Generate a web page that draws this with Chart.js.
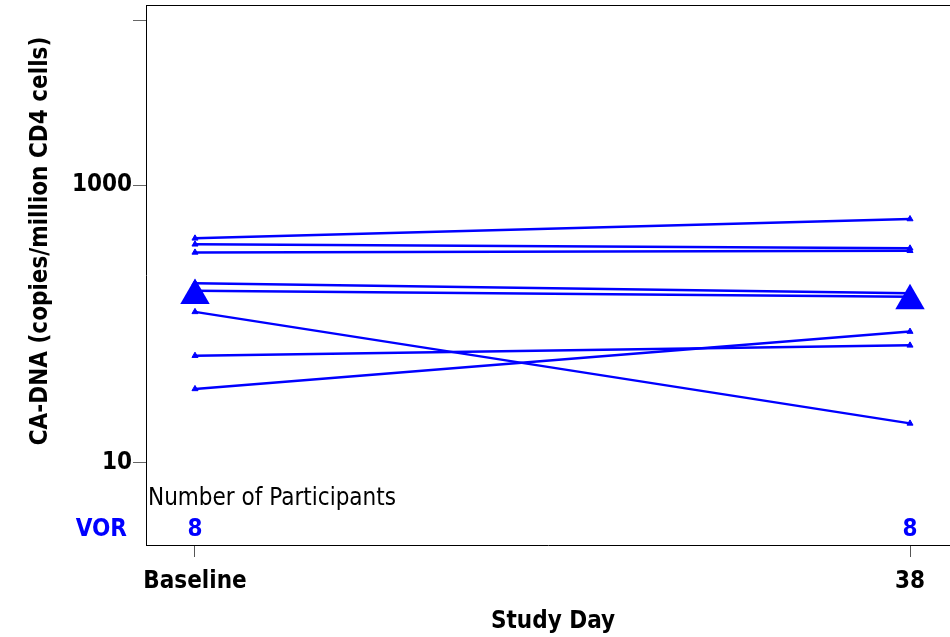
<!DOCTYPE html>
<html>
<head>
<meta charset="utf-8">
<script src="https://cdn.jsdelivr.net/npm/chart.js@4/dist/chart.umd.min.js"></script>
<style>
  body { margin: 0; background: #fff; }
  canvas { display: block; }
</style>
</head>
<body>
<canvas id="myChart" width="950" height="637"></canvas>
<script>
// study visits
const visitLabels = ["Baseline", "38"];
const visitIndex = [0, 1];

// CA-DNA per participant, baseline then day 38
const baselineValues = [413, 374, 327, 196, 173, 122, 59, 34];
const day38Values = [569, 350, 336, 166, 157, 19.2, 70, 88];

// mean marker (big triangle)
const meanValues = [160, 147];

// participants under the plot
const groupName = "VOR";
const participantCounts = [8, 8];

const yTickValues = [10, 1000, 15400];
const yTickLabels = ["10", "1000", ""];

const blue = "#0000ff";
const fontFamily = "'DejaVu Sans Condensed', 'DejaVu Sans', sans-serif";

const datasets = baselineValues.map((b, i) => ({
  data: [
    { x: visitIndex[0], y: b },
    { x: visitIndex[1], y: day38Values[i] },
  ],
  borderColor: blue,
  backgroundColor: blue,
  borderWidth: 2.5,
  pointStyle: "triangle",
  pointRadius: 3.5,
  pointBorderWidth: 1,
  showLine: true,
}));

datasets.push({
  data: meanValues.map((m, i) => ({ x: visitIndex[i], y: m })),
  borderColor: blue,
  backgroundColor: blue,
  showLine: false,
  pointStyle: "triangle",
  pointRadius: 17,
  pointBorderWidth: 0,
});

const textPlugin = {
  id: "texts",
  afterDraw(chart) {
    const ctx = chart.ctx;
    const area = chart.chartArea;
    const xs = chart.scales.x;
    ctx.save();
    // top frame line
    ctx.strokeStyle = "#000";
    ctx.lineWidth = 1;
    ctx.beginPath();
    ctx.moveTo(area.left, area.top + 0.5);
    ctx.lineTo(area.right, area.top + 0.5);
    ctx.stroke();

    ctx.textBaseline = "middle";
    // y title
    ctx.save();
    ctx.translate(41, 241);
    ctx.rotate(-Math.PI / 2);
    ctx.textAlign = "center";
    ctx.fillStyle = "#000";
    ctx.font = "bold 24px " + fontFamily;
    ctx.fillText("CA-DNA (copies/million CD4 cells)", 0, 0);
    ctx.restore();

    // x title
    ctx.textAlign = "center";
    ctx.fillStyle = "#000";
    ctx.font = "bold 24px " + fontFamily;
    ctx.fillText("Study Day", 553, 622);

    // participants table
    ctx.textAlign = "left";
    ctx.font = "24px " + fontFamily;
    ctx.fillText("Number of Participants", area.left + 2, 499);

    ctx.fillStyle = blue;
    ctx.font = "bold 24px " + fontFamily;
    ctx.textAlign = "right";
    ctx.fillText(groupName, 127, 530);
    ctx.textAlign = "center";
    participantCounts.forEach((n, i) => {
      ctx.fillText(String(n), xs.getPixelForValue(visitIndex[i]), 530);
    });
    ctx.restore();
  },
};

const ctx = document.getElementById("myChart");
new Chart(ctx, {
  type: "scatter",
  data: { datasets: datasets },
  options: {
    responsive: false,
    animation: false,
    layout: { autoPadding: false, padding: { top: 5, left: 0, right: 0, bottom: 0 } },
    plugins: {
      legend: { display: false },
      tooltip: { enabled: false },
    },
    scales: {
      x: {
        type: "linear",
        min: -0.06853,
        max: 1.05594,
        afterBuildTicks: (s) => {
          s.ticks = visitIndex.map((v) => ({ value: v }));
        },
        afterFit: (s) => {
          s.height = 92;
          s.paddingLeft = 0;
          s.paddingRight = 0;
        },
        ticks: {
          callback: (v) => visitLabels[v],
          color: "#000",
          padding: 10,
          maxRotation: 0,
          font: { family: fontFamily, size: 24, weight: "bold" },
        },
        grid: {
          display: true,
          drawOnChartArea: false,
          drawTicks: true,
          tickLength: 12,
          tickColor: "#555",
        },
        border: { display: true, color: "#000", width: 1 },
      },
      y: {
        type: "logarithmic",
        min: 2.555,
        max: 19785,
        afterBuildTicks: (s) => {
          s.ticks = yTickValues.map((v) => ({ value: v }));
        },
        afterFit: (s) => {
          s.width = 146;
          s.paddingTop = 0;
          s.paddingBottom = 0;
        },
        ticks: {
          callback: (v, i) => yTickLabels[i],
          color: "#000",
          padding: 1,
          font: { family: fontFamily, size: 24, weight: "bold" },
        },
        grid: {
          display: true,
          drawOnChartArea: false,
          drawTicks: true,
          tickLength: 13,
          tickColor: "#666",
        },
        border: { display: true, color: "#000", width: 1 },
      },
    },
  },
  plugins: [textPlugin],
});
</script>
</body>
</html>
